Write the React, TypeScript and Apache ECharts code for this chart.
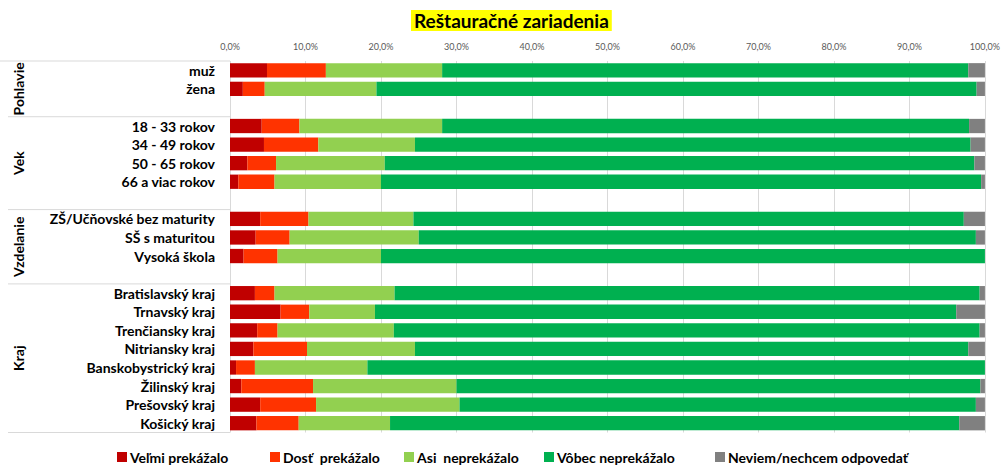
import React, { useEffect, useRef } from "react";
import * as echarts from "echarts";

const categories = [
  "muž", "žena", " ",
  "18 - 33 rokov", "34 - 49 rokov", "50 - 65 rokov", "66 a viac rokov", "  ",
  "ZŠ/Učňovské bez maturity", "SŠ s maturitou", "Vysoká škola", "   ",
  "Bratislavský kraj", "Trnavský kraj", "Trenčiansky kraj", "Nitriansky kraj",
  "Banskobystrický kraj", "Žilinský kraj", "Prešovský kraj", "Košický kraj",
];

const seriesNames = [
  "Veľmi prekážalo",
  "Dosť  prekážalo",
  "Asi  neprekážalo",
  "Vôbec neprekážalo",
  "Neviem/nechcem odpovedať",
];

const velmi = [4.9, 1.7, null, 4.2, 4.5, 2.3, 1.1, null, 4.0, 3.4, 1.8, null, 3.3, 6.7, 3.6, 3.1, 0.8, 1.5, 4.0, 3.5];
const dost = [7.8, 2.9, null, 5.0, 7.2, 3.8, 4.8, null, 6.4, 4.5, 4.5, null, 2.6, 3.8, 2.7, 7.1, 2.5, 9.5, 7.4, 5.6];
const asi = [15.4, 14.8, null, 18.9, 12.8, 14.4, 14.1, null, 13.9, 17.1, 13.7, null, 15.9, 8.7, 15.4, 14.3, 14.9, 19.0, 19.0, 12.1];
const vobec = [69.7, 79.5, null, 69.8, 73.6, 78.1, 79.5, null, 72.9, 73.8, 80.0, null, 77.5, 77.0, 77.6, 73.3, 81.8, 69.4, 68.4, 75.4];
const neviem = [2.2, 1.1, null, 2.1, 1.9, 1.4, 0.5, null, 2.8, 1.2, 0.0, null, 0.7, 3.8, 0.7, 2.2, 0.0, 0.6, 1.2, 3.4];

const colors = ["#C00000", "#FF3300", "#92D050", "#00B050", "#808080"];

const groups = [
  { name: "Pohlavie", from: 0, to: 2 },
  { name: "Vek", from: 3, to: 7 },
  { name: "Vzdelanie", from: 8, to: 11 },
  { name: "Kraj", from: 12, to: 19 },
];

const xTicks = [0, 10, 20, 30, 40, 50, 60, 70, 80, 90, 100];

const legendLefts = [117, 270, 404, 544, 715];

const FONT = "Lato";

export default function App() {
  const ref = useRef<HTMLDivElement>(null);

  useEffect(() => {
    if (!ref.current) return;
    const chart = echarts.init(ref.current, null, { renderer: "svg" });
    const values = [velmi, dost, asi, vobec, neviem];

    const option: any = {
      animation: false,
      textStyle: { fontFamily: FONT },
      title: {
        text: "Reštauračné zariadenia",
        left: 411,
        top: 10,
        padding: [1, 3, 1, 3],
        backgroundColor: "#FFFF00",
        textStyle: { fontFamily: FONT, fontSize: 19, fontWeight: "bold", color: "#000" },
      },
      legend: seriesNames.map((name, i) => ({
        data: [name],
        left: legendLefts[i],
        top: 450,
        padding: 0,
        icon: "rect",
        itemWidth: 10,
        itemHeight: 10,
        textStyle: { fontFamily: FONT, fontSize: 14, fontWeight: "bold", color: "#000", padding: [0, 0, 0, -2] },
      })),
      grid: { left: 230, right: 15, top: 61, bottom: 33.5, containLabel: false },
      xAxis: {
        type: "value",
        position: "top",
        min: 0,
        max: 100,
        interval: 10,
        axisLine: { show: false },
        axisTick: { show: false },
        axisLabel: {
          margin: 10,
          fontSize: 9,
          color: "#595959",
          fontFamily: FONT,
          formatter: (v: number) => (xTicks.includes(v) ? v.toFixed(1).replace(".", ",") + "%" : ""),
        },
        splitLine: { show: true, lineStyle: { color: "#D9D9D9", width: 1 } },
      },
      yAxis: {
        type: "category",
        inverse: true,
        data: categories,
        axisLine: { show: false },
        axisTick: { show: false },
        axisLabel: { margin: 15, fontSize: 14, fontWeight: "bold", color: "#000", fontFamily: FONT },
      },
      series: seriesNames.map((name, i) => ({
        name,
        type: "bar",
        stack: "total",
        barCategoryGap: "23%",
        itemStyle: { color: colors[i] },
        data: values[i],
      })),
    };
    chart.setOption(option);

    const y = (i: number) => chart.convertToPixel({ yAxisIndex: 0 }, i) as number;
    const step = y(1) - y(0);
    const x0 = chart.convertToPixel({ xAxisIndex: 0 }, 0) as number;
    const graphic: any[] = [];
    groups.forEach((g, gi) => {
      const top = y(g.from) - step / 2;
      const bottom = y(g.to) + step / 2;
      if (gi === 0) {
        graphic.push({ type: "line", shape: { x1: 0, y1: top, x2: x0, y2: top }, style: { stroke: "#D9D9D9", lineWidth: 1 } });
      }
      graphic.push({ type: "line", shape: { x1: 8, y1: bottom, x2: x0, y2: bottom }, style: { stroke: "#D9D9D9", lineWidth: 1 } });
      graphic.push({
        type: "text",
        x: 18,
        y: (top + bottom) / 2,
        rotation: Math.PI / 2,
        style: {
          text: g.name,
          fontFamily: FONT,
          fontSize: 14,
          fontWeight: "bold",
          fill: "#000",
          align: "center",
          verticalAlign: "middle",
        },
      });
    });
    chart.setOption({ graphic });

    return () => chart.dispose();
  }, []);

  return <div ref={ref} style={{ position: "fixed", left: 0, top: 0, width: 1003, height: 466, background: "#fff" }} />;
}
